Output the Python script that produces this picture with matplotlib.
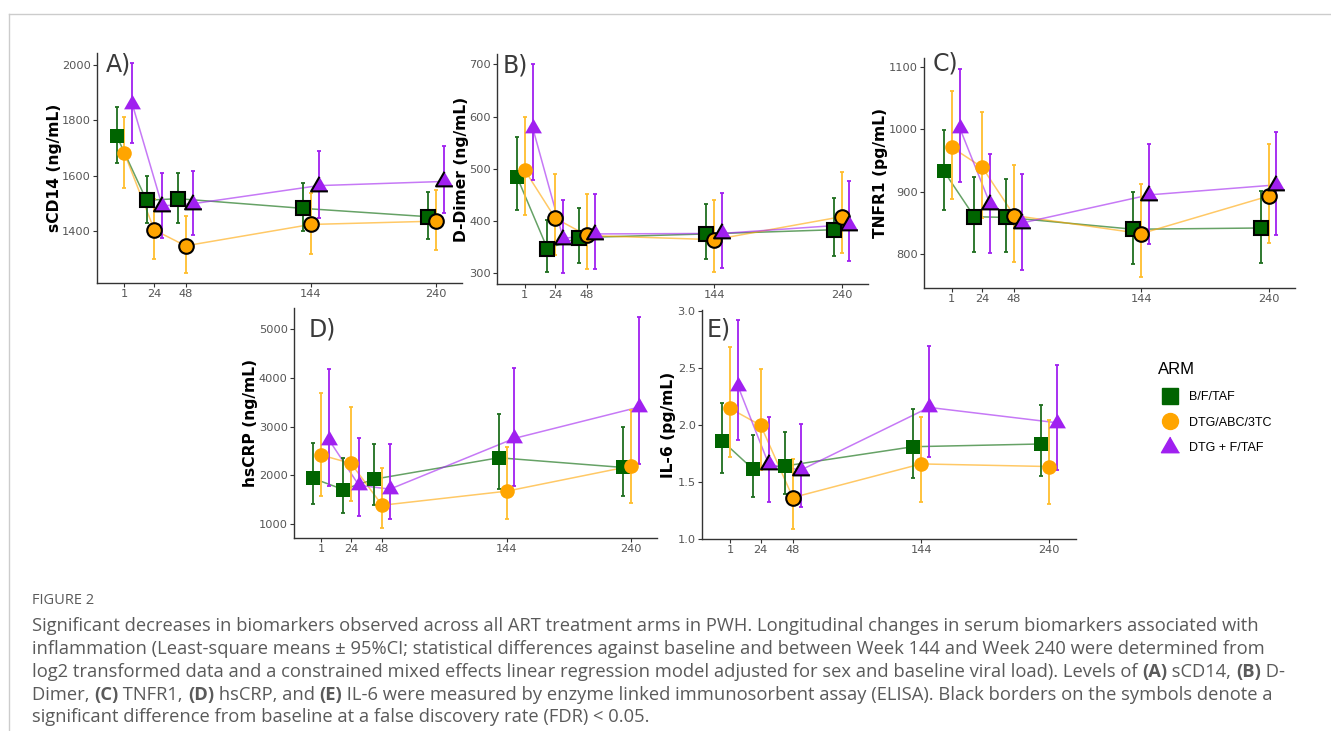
import numpy as np
import matplotlib
matplotlib.use('Agg')
import matplotlib.pyplot as plt
from matplotlib.lines import Line2D

# ---- data ----
weeks = [1, 24, 48, 144, 240]
arms = ['B/F/TAF', 'DTG/ABC/3TC', 'DTG + F/TAF']

# rows: B/F/TAF, DTG/ABC/3TC, DTG + F/TAF
scd14_mean = [[1745, 1512, 1518, 1483, 1453], [1682, 1405, 1348, 1425, 1437], [1860, 1492, 1500, 1565, 1580]]
scd14_lo = [[1646, 1429, 1431, 1401, 1371], [1558, 1300, 1250, 1320, 1332], [1720, 1375, 1387, 1447, 1465]]
scd14_hi = [[1848, 1601, 1610, 1574, 1541], [1814, 1518, 1456, 1537, 1550], [2008, 1610, 1616, 1690, 1706]]
scd14_sig = [[0, 1, 1, 1, 1], [0, 1, 1, 1, 1], [0, 1, 1, 1, 1]]

ddimer_mean = [[485, 347, 368, 375, 383], [497, 405, 372, 364, 408], [578, 366, 375, 376, 393]]
ddimer_lo = [[421, 302, 319, 326, 333], [411, 335, 308, 302, 338], [478, 300, 308, 309, 324]]
ddimer_hi = [[560, 401, 424, 433, 443], [600, 490, 451, 441, 493], [700, 441, 452, 453, 476]]
ddimer_sig = [[0, 1, 1, 1, 1], [0, 1, 1, 1, 1], [0, 1, 1, 1, 1]]

tnfr1_mean = [[933, 860, 859, 840, 842], [971, 939, 862, 833, 893], [1002, 880, 850, 895, 911]]
tnfr1_lo = [[871, 804, 803, 785, 786], [888, 858, 788, 763, 818], [916, 802, 775, 817, 831]]
tnfr1_hi = [[999, 923, 920, 900, 902], [1062, 1028, 943, 912, 977], [1097, 960, 928, 977, 996]]
tnfr1_sig = [[0, 1, 1, 1, 1], [0, 0, 1, 1, 1], [0, 1, 1, 1, 1]]

hscrp_mean = [[1938, 1712, 1925, 2363, 2164], [2418, 2247, 1390, 1678, 2192], [2730, 1800, 1720, 2760, 3400]]
hscrp_lo = [[1411, 1240, 1404, 1719, 1575], [1582, 1473, 925, 1103, 1445], [1781, 1164, 1116, 1788, 2227]]
hscrp_hi = [[2671, 2360, 2644, 3253, 2986], [3685, 3411, 2143, 2589, 3342], [4178, 2760, 2637, 4199, 5240]]
hscrp_sig = [[0, 0, 0, 0, 0], [0, 0, 0, 0, 0], [0, 0, 0, 0, 0]]

il6_mean = [[1.863, 1.615, 1.641, 1.810, 1.834], [2.146, 1.997, 1.364, 1.659, 1.636], [2.34, 1.655, 1.605, 2.155, 2.02]]
il6_lo = [[1.577, 1.373, 1.394, 1.534, 1.554], [1.723, 1.605, 1.087, 1.329, 1.309], [1.869, 1.321, 1.277, 1.723, 1.606]]
il6_hi = [[2.198, 1.913, 1.942, 2.140, 2.172], [2.685, 2.493, 1.703, 2.073, 2.044], [2.924, 2.067, 2.006, 2.694, 2.525]]
il6_sig = [[0, 0, 0, 0, 0], [0, 0, 1, 0, 0], [0, 1, 1, 0, 0]]

panels = [
    ('A)', 'sCD14 (ng/mL)', scd14_mean, scd14_lo, scd14_hi, scd14_sig, [1400, 1600, 1800, 2000], (1214, 2043)),
    ('B)', 'D-Dimer (ng/mL)', ddimer_mean, ddimer_lo, ddimer_hi, ddimer_sig, [300, 400, 500, 600, 700], (279, 720)),
    ('C)', 'TNFR1 (pg/mL)', tnfr1_mean, tnfr1_lo, tnfr1_hi, tnfr1_sig, [800, 900, 1000, 1100], (746, 1114)),
    ('D)', 'hsCRP (ng/mL)', hscrp_mean, hscrp_lo, hscrp_hi, hscrp_sig, [1000, 2000, 3000, 4000, 5000], (719, 5431)),
    ('E)', 'IL-6 (pg/mL)', il6_mean, il6_lo, il6_hi, il6_sig, [1.0, 1.5, 2.0, 2.5, 3.0], (1.0, 3.01)),
]

# ---- style ----
W, H = 1331, 731
colors = ['#006400', '#FFA500', '#A020F0']
bar_colors = ['#1f6e1f', '#FFBE2E', '#A020F0']
dodge = [-6, 0, 6]
tri = [(0, 0.577), (-0.5, -0.289), (0.5, -0.289)]
markers = ['s', 'o', tri]
msizes = [10, 10.5, 14]

# axes boxes in pixels: left, top, right, bottom
boxes = [(97, 53, 462, 283), (497, 54, 868, 284), (924, 58, 1295, 288),
         (294, 308, 657, 538), (702, 310, 1076, 539)]
tag_pos = [(0.023, 0.952), (0.016, 0.952), (0.024, 0.975), (0.039, 0.908), (0.013, 0.913)]
ylab_off = [-43, -36, -43, -43, -33]   # y-label centre, pixels left of the axis

fig = plt.figure(figsize=(W / 100, H / 100), dpi=100)

for k, (tag, ylab, mean, lo, hi, sig, yt, ylim) in enumerate(panels):
    l, t, r, b = boxes[k]
    ax = fig.add_axes([l / W, 1 - b / H, (r - l) / W, (b - t) / H])
    for i in range(3):
        xs = [w + dodge[i] for w in weeks]
        m = np.array(mean[i], dtype=float)
        err = [m - np.array(lo[i]), np.array(hi[i]) - m]
        ax.plot(xs, m, color=colors[i], lw=1.1, alpha=0.6, zorder=2)
        ax.errorbar(xs, m, yerr=err, fmt='none', ecolor=bar_colors[i], elinewidth=1.3,
                    capsize=1.6, capthick=1.3, zorder=3)
        for x, y, s in zip(xs, m, sig[i]):
            ax.plot(x, y, marker=markers[i], ms=msizes[i], mfc=colors[i],
                    mec='black' if s else colors[i], mew=1.5 if s else 0, zorder=5 + i)
    ax.set_xlim(-20, 260)
    ax.set_ylim(*ylim)
    ax.set_xticks(weeks)
    ax.set_yticks(yt)
    if k == 4:
        ax.set_yticklabels(['1.0', '1.5', '2.0', '2.5', '3.0'])
    ax.spines['top'].set_visible(False)
    ax.spines['right'].set_visible(False)
    for sp in ['left', 'bottom']:
        ax.spines[sp].set_color('#333333')
        ax.spines[sp].set_linewidth(1.0)
    ax.tick_params(length=3, width=0.8, color='#333333', labelsize=8.2, labelcolor='#555555', pad=1.5)
    ax.set_ylabel(ylab, fontsize=11.2, fontweight='bold', color='black', va='center')
    ax.yaxis.set_label_coords(ylab_off[k] / (r - l), 0.5)
    ax.text(tag_pos[k][0], tag_pos[k][1], tag, transform=ax.transAxes, fontsize=17,
            color='#3a3a3a', ha='left', va='center')

# legend
handles = [Line2D([], [], ls='none', marker=markers[i], ms=[11, 11.5, 15][i],
                  mfc=colors[i], mec=colors[i]) for i in range(3)]
leg = fig.legend(handles, arms, title='ARM', loc='upper left', bbox_to_anchor=(1147 / W, 1 - 351 / H),
                 frameon=False, prop={'family': 'Liberation Sans', 'size': 9},
                 title_fontproperties={'family': 'Liberation Sans', 'size': 12},
                 alignment='left', handlelength=1.8, handletextpad=0.65, labelspacing=1.1)

# frame lines of the figure box
fig.add_artist(Line2D([9 / W, 1], [1 - 14 / H, 1 - 14 / H], color='#cccccc', lw=1))
fig.add_artist(Line2D([9 / W, 9 / W], [0, 1 - 14 / H], color='#cccccc', lw=1))

# caption
cap_color = '#5a5a5a'
fig.text(32 / W, 1 - 600 / H, 'FIGURE 2', fontsize=10.5, family='Open Sans', color=cap_color, va='center')

cap_lines = [
    [('Significant decreases in biomarkers observed across all ART treatment arms in PWH. Longitudinal changes in serum biomarkers associated with', False)],
    [('inflammation (Least-square means \u00b1 95%CI; statistical differences against baseline and between Week 144 and Week 240 were determined from', False)],
    [('log2 transformed data and a constrained mixed effects linear regression model adjusted for sex and baseline viral load). Levels of ', False),
     ('(A)', True), (' sCD14, ', False), ('(B)', True), (' D-', False)],
    [('Dimer, ', False), ('(C)', True), (' TNFR1, ', False), ('(D)', True), (' hsCRP, and ', False), ('(E)', True),
     (' IL-6 were measured by enzyme linked immunosorbent assay (ELISA). Black borders on the symbols denote a', False)],
    [('significant difference from baseline at a false discovery rate (FDR) < 0.05.', False)],
]
cap_y = [626, 649, 672, 695, 717]
renderer = fig.canvas.get_renderer()
for yy, parts in zip(cap_y, cap_lines):
    x = 32
    for s, bold in parts:
        txt = fig.text(x / W, 1 - yy / H, s, fontsize=13.2, family='Open Sans', color=cap_color,
                       weight='bold' if bold else 'normal', va='center')
        x += txt.get_window_extent(renderer).width

fig.savefig('out.png', dpi=100)
